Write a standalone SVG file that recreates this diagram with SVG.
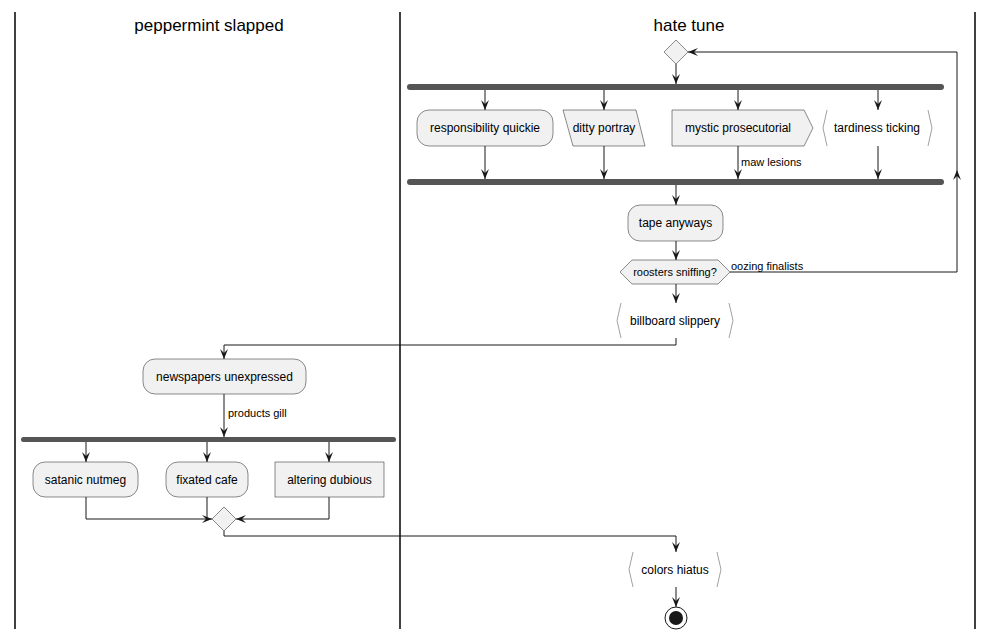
<svg xmlns="http://www.w3.org/2000/svg" width="993" height="639" viewBox="0 0 993 639">
<defs>
<marker id="ah" viewBox="0 0 10 8" refX="10" refY="4" markerWidth="10" markerHeight="8" orient="auto" markerUnits="userSpaceOnUse">
<path d="M0,0 L10,4 L0,8 L4,4 Z" fill="#181818"/>
</marker>
</defs>
<style>
text{font-family:"Liberation Sans",Arial,sans-serif;fill:#000}
.t{font-size:12px;text-anchor:middle}
.l{font-size:11px}
.title{font-size:17px;text-anchor:middle}
.n{fill:#F1F1F1;stroke:#181818;stroke-width:0.5}
.br{fill:none;stroke:#888;stroke-width:0.8}
.bar{fill:#555555}
.c{fill:none;stroke:#181818;stroke-width:1}
.c.a{marker-end:url(#ah)}
.lane{stroke:#000;stroke-width:1.5}
</style>
<rect width="993" height="639" fill="#fff"/>
<g id="lanes">
<line class="lane" x1="15" y1="12" x2="15" y2="629"/>
<line class="lane" x1="400" y1="12" x2="400" y2="629"/>
<line class="lane" x1="975" y1="12" x2="975" y2="629"/>
<text class="title" x="209" y="31">peppermint slapped</text>
<text class="title" x="689" y="31">hate tune</text>
</g>
<g id="connectors">
<line class="c a" x1="676" y1="64" x2="676" y2="84"/>
<line class="c a" x1="485" y1="90" x2="485" y2="110"/>
<line class="c a" x1="604" y1="90" x2="604" y2="110"/>
<line class="c a" x1="738" y1="90" x2="738" y2="110"/>
<line class="c a" x1="878" y1="90" x2="878" y2="110"/>
<line class="c a" x1="485" y1="146" x2="485" y2="179"/>
<line class="c a" x1="604" y1="146" x2="604" y2="179"/>
<line class="c a" x1="738" y1="146" x2="738" y2="179"/>
<text class="l" x="741" y="166">maw lesions</text>
<line class="c a" x1="878" y1="146" x2="878" y2="179"/>
<line class="c a" x1="676" y1="185" x2="676" y2="205"/>
<line class="c a" x1="676" y1="241" x2="676" y2="260"/>
<line class="c a" x1="676" y1="284" x2="676" y2="303"/>
<polyline class="c a" points="730,272 957,272 957,52 688,52"/>
<path d="M953,180 L957,170 L961,180 L957,176 Z" fill="#181818"/>
<text class="l" x="731" y="270">oozing finalists</text>
<polyline class="c a" points="676,338 676,345 224,345 224,359"/>
<line class="c a" x1="224" y1="394" x2="224" y2="437"/>
<text class="l" x="228" y="417">products gill</text>
<line class="c a" x1="86" y1="442" x2="86" y2="462"/>
<line class="c a" x1="207" y1="442" x2="207" y2="462"/>
<line class="c a" x1="329" y1="442" x2="329" y2="462"/>
<polyline class="c a" points="86,497 86,519 212,519"/>
<polyline class="c" points="207,497 207,519"/>
<polyline class="c a" points="329,497 329,519 236,519"/>
<polyline class="c a" points="224,531 224,536 676,536 676,552"/>
<line class="c a" x1="676" y1="587" x2="676" y2="607"/>
</g>
<g id="start-merge"><polygon class="n" points="676,40 688,52 676,64 664,52"/></g>
<g id="fork1"><rect class="bar" x="407" y="84" width="537" height="6" rx="3"/></g>
<g id="responsibility-quickie"><rect class="n" x="417" y="110" width="136" height="36" rx="12"/><text class="t" x="485" y="132">responsibility quickie</text></g>
<g id="ditty-portray"><polygon class="n" points="563,110 636,110 645,146 573,146"/><text class="t" x="604" y="132">ditty portray</text></g>
<g id="mystic-prosecutorial"><polygon class="n" points="672,110 804,110 813,128 804,146 672,146"/><text class="t" x="738" y="132">mystic prosecutorial</text></g>
<g id="tardiness-ticking"><rect x="827" y="110" width="101" height="36" fill="#fff"/><polyline class="br" points="827,110 823,128 827,146"/><polyline class="br" points="928,110 932,128 928,146"/><text class="t" x="877" y="132">tardiness ticking</text></g>
<g id="fork2"><rect class="bar" x="407" y="179" width="537" height="6" rx="3"/></g>
<g id="tape-anyways"><rect class="n" x="628" y="205" width="95" height="36" rx="12"/><text class="t" x="675.5" y="227">tape anyways</text></g>
<g id="roosters-sniffing"><polygon class="n" points="632,260 718,260 730,272 718,284 632,284 620,272"/><text class="t" x="675" y="276" style="font-size:11px">roosters sniffing?</text></g>
<g id="billboard-slippery"><polyline class="br" points="621,303 617,320.5 621,338"/><polyline class="br" points="729,303 733,320.5 729,338"/><text class="t" x="675" y="325">billboard slippery</text></g>
<g id="newspapers-unexpressed"><rect class="n" x="143" y="359" width="163" height="35" rx="12"/><text class="t" x="224.5" y="381">newspapers unexpressed</text></g>
<g id="fork3"><rect class="bar" x="21" y="437" width="375" height="5" rx="2.5"/></g>
<g id="satanic-nutmeg"><rect class="n" x="33" y="462" width="105" height="35" rx="12"/><text class="t" x="85.5" y="484">satanic nutmeg</text></g>
<g id="fixated-cafe"><rect class="n" x="166" y="462" width="82" height="35" rx="12"/><text class="t" x="207" y="484">fixated cafe</text></g>
<g id="altering-dubious"><rect class="n" x="275" y="462" width="109" height="35"/><text class="t" x="329.5" y="484">altering dubious</text></g>
<g id="merge"><polygon class="n" points="224,507 236,519 224,531 212,519"/></g>
<g id="colors-hiatus"><polyline class="br" points="633,552 629,569.5 633,587"/><polyline class="br" points="717,552 721,569.5 717,587"/><text class="t" x="675" y="574">colors hiatus</text></g>
<g id="end"><circle cx="676" cy="618" r="11" fill="none" stroke="#181818" stroke-width="1"/><circle cx="676" cy="618" r="7" fill="#181818"/></g>
</svg>
